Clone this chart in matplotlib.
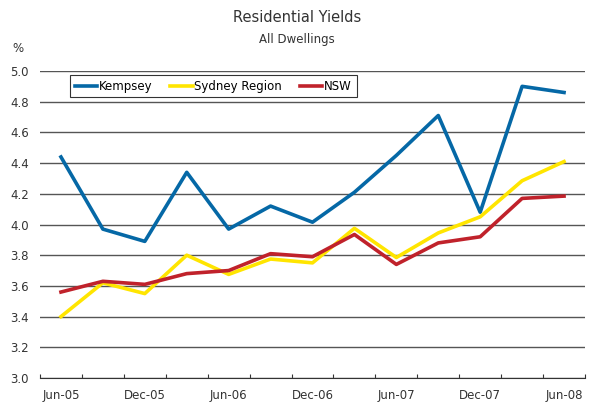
import numpy as np
import matplotlib.pyplot as plt

# Quarterly data, Jun-05 .. Jun-08
quarters = ["Jun-05", "Sep-05", "Dec-05", "Mar-06", "Jun-06", "Sep-06", "Dec-06",
            "Mar-07", "Jun-07", "Sep-07", "Dec-07", "Mar-08", "Jun-08"]
kempsey = [4.44, 3.97, 3.89, 4.34, 3.97, 4.12, 4.015, 4.21, 4.45, 4.71, 4.08, 4.90, 4.86]
sydney = [3.40, 3.62, 3.55, 3.80, 3.675, 3.775, 3.75, 3.975, 3.785, 3.945, 4.05, 4.285, 4.41]
nsw = [3.56, 3.63, 3.61, 3.68, 3.70, 3.81, 3.79, 3.935, 3.74, 3.88, 3.92, 4.17, 4.185]

yticks = [3.0, 3.2, 3.4, 3.6, 3.8, 4.0, 4.2, 4.4, 4.6, 4.8, 5.0]

plt.rcParams['font.family'] = 'DejaVu Sans'
fig = plt.figure(figsize=(5.94, 4.03), dpi=100)
ax = fig.add_axes([40 / 594, 1 - 378 / 403, 545 / 594, 307 / 403])

x = np.arange(len(quarters))
ax.plot(x, kempsey, color="#0568A6", lw=2.6, label="Kempsey")
ax.plot(x, sydney, color="#FFE500", lw=2.6, label="Sydney Region")
ax.plot(x, nsw, color="#C0222B", lw=2.6, label="NSW")

ax.set_xlim(-0.5, len(quarters) - 0.5)
ax.set_ylim(3.0, 5.0)
ax.set_yticks(yticks)
ax.set_yticklabels([f"{v:.1f}" for v in yticks], fontsize=8.5, color="#333333")
ax.tick_params(axis="y", length=0, pad=8)
ax.yaxis.grid(True, color="#555555", lw=1.0)
ax.set_axisbelow(True)

# category boundaries as ticks, labels every second quarter
ax.set_xticks(np.arange(-0.5, len(quarters)), minor=False)
ax.set_xticklabels([])
ax.set_xticks(x[::2], minor=True)
ax.set_xticklabels(quarters[::2], minor=True, fontsize=8.5, color="#333333")
ax.tick_params(axis="x", which="major", direction="in", length=3, color="#333333")
ax.tick_params(axis="x", which="minor", length=0, pad=8)

for s in ["left", "right", "top"]:
    ax.spines[s].set_visible(False)
ax.spines["bottom"].set_color("#333333")

leg = ax.legend(loc="upper left", bbox_to_anchor=(0.055, 0.987), ncol=3, fontsize=8.5,
                frameon=True, fancybox=False, handlelength=1.9, handletextpad=0.15,
                columnspacing=1.5, borderpad=0.4, borderaxespad=0)
leg.get_frame().set_edgecolor("black")
leg.get_frame().set_linewidth(0.8)

fig.text(0.5, 1 - 18 / 403, "Residential Yields", ha="center", va="center", fontsize=10.5, color="#333333")
fig.text(0.5, 1 - 40 / 403, "All Dwellings", ha="center", va="center", fontsize=8.5, color="#333333")
fig.text(18 / 594, 1 - 48 / 403, "%", ha="center", va="center", fontsize=8.5, color="#333333")

fig.savefig("out.png", dpi=100)
